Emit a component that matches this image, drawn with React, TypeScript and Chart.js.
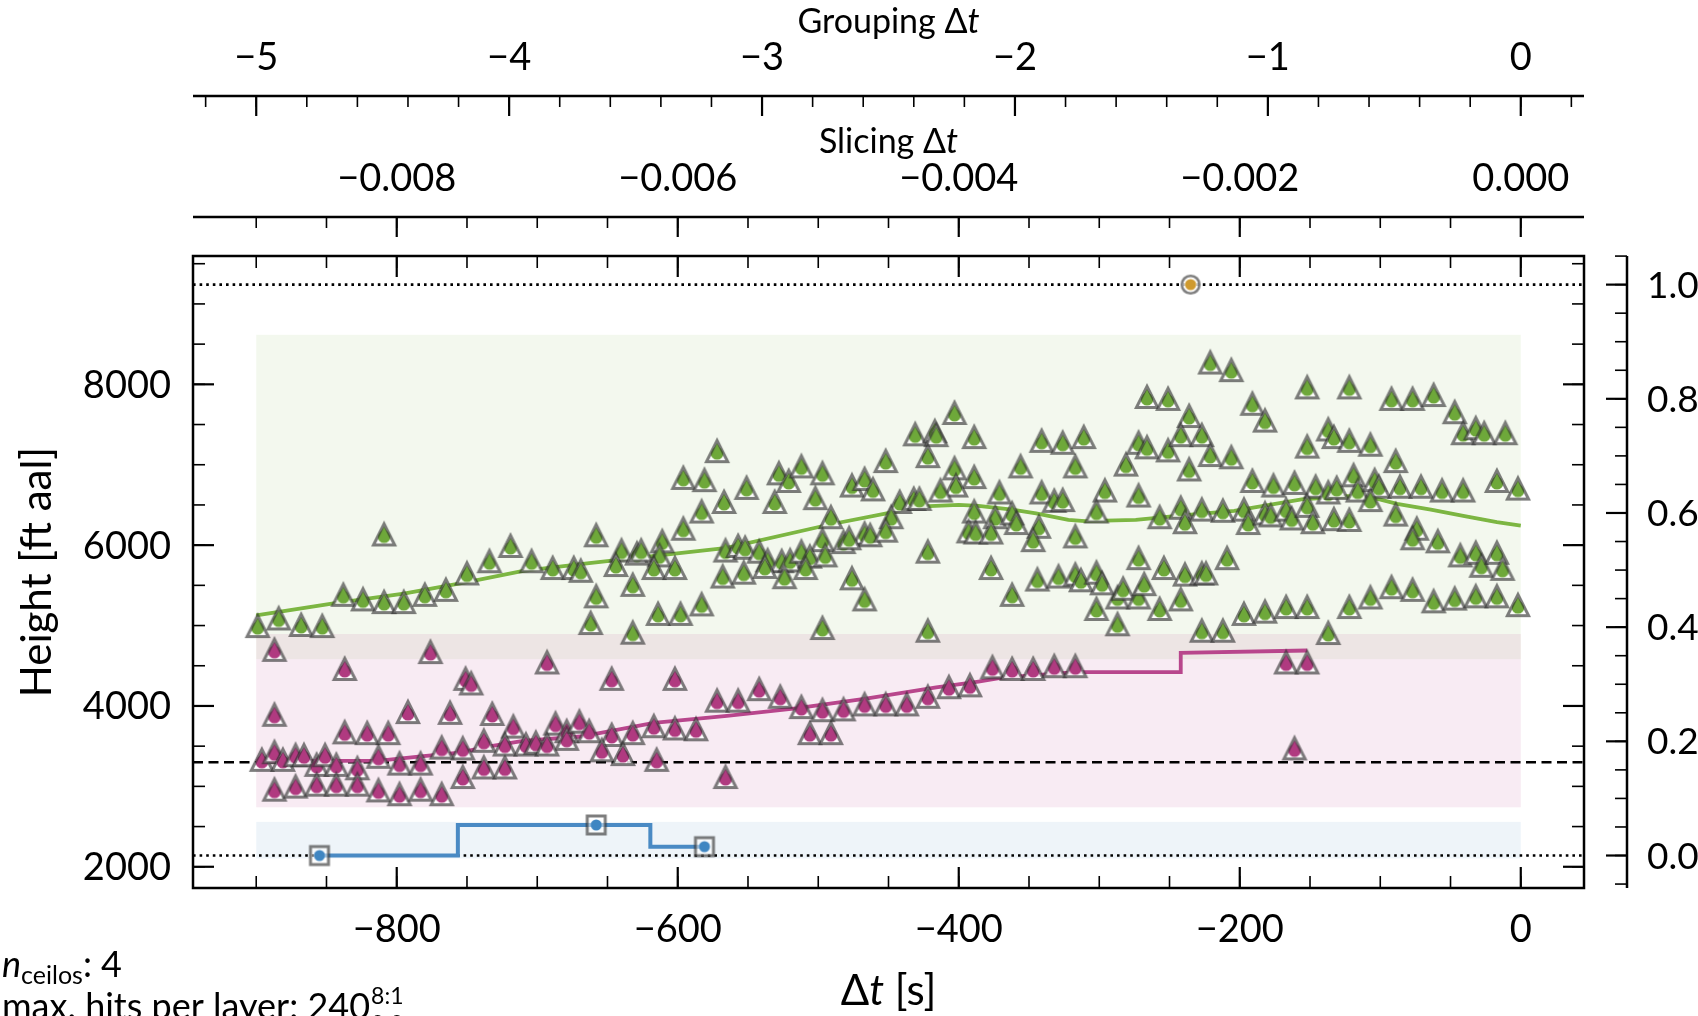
import React, { useEffect, useRef } from "react";
import { Chart, registerables } from "chart.js";

Chart.register(...registerables);

const WIDTH = 1698;
const HEIGHT = 1016;
const FONT = "Lato, 'DejaVu Sans', sans-serif";

// ---- axis limits / conversions ----
const X_LIM = [-945, 45];
const Y_LIM = [1736, 9596];
const GROUPING_PER_S = 1 / 180;
const SLICING_PER_S = 1e-5;

// ---- ticks ----
const X_MAJOR = [-800, -600, -400, -200, 0];
const X_LABELS = ["−800", "−600", "−400", "−200", "0"];
const Y_MAJOR = [2000, 4000, 6000, 8000];
const Y_LABELS = ["2000", "4000", "6000", "8000"];
const Y2_MAJOR = [0, 0.2, 0.4, 0.6, 0.8, 1.0];
const Y2_LABELS = ["0.0", "0.2", "0.4", "0.6", "0.8", "1.0"];
const G_MAJOR = [-5, -4, -3, -2, -1, 0];
const G_LABELS = ["−5", "−4", "−3", "−2", "−1", "0"];
const S_MAJOR = [-0.008, -0.006, -0.004, -0.002, 0];
const S_LABELS = ["−0.008", "−0.006", "−0.004", "−0.002", "0.000"];
const MINOR_STEP = { x: 50, y: 500, y2: 0.05, g: 0.2, s: 0.0005 };

// ---- reference levels ----
const H_MIN = 2140; // lower dotted line (normalised 0)
const H_MAX = 9240; // upper dotted line (normalised 1)
const H_REF = 3300; // dashed line

// ---- shaded layer bands ----
const BAND_DT = [-900, 0];
const BAND_NAMES = ["green", "pink", "blue"];
const BAND_LOW = [4582, 2740, 2104];
const BAND_HIGH = [8616, 4895, 2558];
const BAND_COLORS = ["rgba(122,180,66,0.09)", "rgba(182,62,134,0.10)", "rgba(62,130,190,0.09)"];

// ---- smoothed layer lines ----
const GREEN_LINE_DT = [-900, -845, -795, -750, -710, -663, -565, -491, -445, -433, -400, -386, -362, -345, -322, -310, -274, -241, -204, -156, -123, -104, -88, -64, -40, -17, 0];
const GREEN_LINE_H = [5126, 5277, 5397, 5539, 5681, 5777, 5967, 6260, 6418, 6475, 6500, 6489, 6442, 6394, 6313, 6299, 6313, 6370, 6427, 6570, 6608, 6584, 6513, 6442, 6361, 6285, 6242];
const PINK_LINE_DT = [-900, -812, -781, -757, -734, -710, -669, -617, -565, -516, -466, -416, -386, -369, -333, -317, -242, -242, -152];
const PINK_LINE_H = [3310, 3320, 3377, 3415, 3496, 3567, 3620, 3790, 3876, 3971, 4090, 4232, 4304, 4351, 4399, 4422, 4422, 4660, 4690];

// ---- blue (lowest layer) and orange (single top hit) ----
const BLUE_DT = [-855, -658, -581];
const BLUE_H = [2140, 2520, 2250];
const ORANGE_DT = [-235];
const ORANGE_H = [9240];

// ---- green hits ----
const GREEN_DT = [
  -899, -884, -868, -853, -809, -838, -824, -809, -795, -780, -765, -750, -734, -719, -704, -689, -674,
  -403, -431, -417, -416, -389, -572, -422, -452, -596, -581, -528, -521, -512, -497, -403, -389, -551, -476,
  -467, -461, -402, -583, -567, -531, -502, -442, -432, -428, -413, -389, -491, -448, -658, -611, -596, -393,
  -388, -467, -463, -452, -497, -482, -478, -640, -629, -626, -613, -566, -557, -552, -542, -536, -526, -520,
  -512, -506, -495, -422, -644, -617, -602, -538, -509, -669, -568, -553, -524, -632, -476, -658, -583, -614,
  -598, -467, -662, -632, -497, -422,
  -221, -206, -266, -251, -152, -122, -191, -182, -236, -341, -326, -311, -272, -266, -251, -242, -227, -152,
  -137, -133, -122, -221, -206, -356, -317, -281, -236, -371, -341, -332, -326, -296, -272, -191, -176, -161,
  -146, -137, -131, -119, -116, -374, -362, -359, -343, -302, -257, -242, -239, -227, -212, -197, -194, -182,
  -178, -167, -163, -152, -148, -133, -122, -377, -347, -317, -377, -362, -344, -329, -317, -313, -302, -298,
  -302, -287, -287, -283, -272, -268, -272, -254, -257, -242, -239, -227, -224, -209, -227, -212, -197, -182,
  -167, -152, -137, -122,
  -92, -77, -62, -47, -41, -32, -26, -11, -107, -89, -104, -101, -86, -71, -56, -41, -17, -2, -107, -89, -74,
  -77, -59, -43, -32, -28, -17, -13, -107, -92, -77, -62, -47, -32, -17, -2,
];
const GREEN_H = [
  4993, 5088, 5007, 4993, 6133, 5382, 5325, 5292, 5292, 5382, 5444, 5648, 5800, 5990, 5800, 5715, 5715,
  7644, 7378, 7416, 7368, 7344, 7169, 7107, 7045, 6836, 6808, 6893, 6798, 6979, 6893, 6955, 6846, 6712, 6741,
  6822, 6693, 6741, 6418, 6537, 6537, 6584, 6537, 6575, 6575, 6679, 6418, 6347, 6347, 6123, 6047, 6204, 6171,
  6157, 6142, 6123, 6180, 6062, 6038, 6085, 5933, 5895, 5933, 5872, 5933, 5990, 5967, 5919, 5810, 5800, 5810,
  5919, 5857, 5872, 5919, 5753, 5715, 5715, 5729, 5715, 5681, 5610, 5658, 5601, 5506, 5587, 5363, 5263, 5145,
  5145, 5325, 5031, 4912, 4969, 4936,
  8271, 8176, 7843, 7819, 7962, 7962, 7758, 7549, 7606, 7297, 7273, 7344, 7273, 7216, 7178, 7368, 7368, 7226,
  7439, 7344, 7297, 7121, 7093, 6979, 6979, 7002, 6941, 6655, 6655, 6551, 6560, 6679, 6617, 6798, 6741, 6774,
  6727, 6655, 6712, 6869, 6679, 6347, 6394, 6275, 6228, 6418, 6347, 6465, 6285, 6442, 6427, 6442, 6275, 6394,
  6370, 6442, 6332, 6489, 6285, 6323, 6313, 6157, 6062, 6109, 5715, 5382, 5572, 5610, 5634, 5563, 5658, 5525,
  5206, 5016, 5349, 5458, 5349, 5515, 5838, 5715, 5206, 5325, 5634, 5648, 5648, 5838, 4936, 4936, 5145, 5173,
  5230, 5230, 4907, 5230,
  7819, 7819, 7867, 7653, 7392, 7454, 7392, 7392, 7249, 7045, 6808, 6727, 6727, 6727, 6679, 6679, 6798, 6703, 6560, 6380, 6204,
  6085, 6047, 5872, 5905, 5743, 5905, 5705, 5349, 5477, 5444, 5301, 5335, 5363, 5363, 5254,
];

// ---- pink hits ----
const PINK_DT = [
  -887, -837, -776, -751, -747, -693, -887, -792, -762, -732, -837, -821, -806, -717, -687, -679, -679, -670, -663,
  -896, -887, -881, -872, -866, -857, -851, -843, -828, -813, -798, -783, -753, -738, -723,
  -887, -872, -857, -843, -828, -813, -798, -783, -768, -738, -753, -768, -723, -708, -701, -693,
  -647, -602, -572, -557, -542, -527, -512, -497, -482, -467, -452, -437, -422, -407, -392,
  -647, -632, -617, -602, -587, -654, -639, -615, -566, -506, -491,
  -376, -362, -347, -332, -317, -167, -152, -161,
];
const PINK_H = [
  4698, 4460, 4670, 4337, 4280, 4541, 3890, 3924, 3914, 3900, 3672, 3662, 3662, 3743, 3781, 3686, 3591, 3805, 3686,
  3330, 3425, 3330, 3387, 3387, 3268, 3387, 3268, 3225, 3368, 3283, 3283, 3116, 3235, 3235,
  2959, 2997, 3021, 3021, 3021, 2950, 2902, 2959, 2902, 3567, 3472, 3482, 3520, 3520, 3543, 3520,
  4337, 4337, 4066, 4066, 4209, 4114, 3986, 3947, 3957, 4019, 4019, 4019, 4114, 4233, 4256,
  3639, 3662, 3748, 3720, 3710, 3449, 3401, 3330, 3116, 3662, 3662,
  4480, 4460, 4460, 4494, 4494, 4541, 4541, 3472,
];

// ---- colours ----
const GREEN_LINE_COLOR = "#7cb642";
const PINK_LINE_COLOR = "#b8468c";
const BLUE_LINE_COLOR = "#4a8ac4";
const GREEN_FILL = "#6ea83a";
const PINK_FILL = "#b03a80";
const BLUE_FILL = "#3f86c2";
const ORANGE_FILL = "#cf9a2e";
const MARKER_EDGE = "rgba(45,45,45,0.62)";

function pts(xs: number[], ys: number[]) {
  return xs.map((x, i) => ({ x, y: ys[i] }));
}

function minorTicks(min: number, max: number, step: number) {
  const out: number[] = [];
  const k0 = Math.ceil(min / step - 1e-9);
  const k1 = Math.floor(max / step + 1e-9);
  for (let k = k0; k <= k1; k++) out.push(k * step);
  return out;
}

function triMarker(color: string) {
  const s = 32;
  const c = document.createElement("canvas");
  c.width = s;
  c.height = s;
  const g = c.getContext("2d")!;
  const cx = s / 2, cy = s / 2, r = 10.6;
  const path = () => {
    g.beginPath();
    g.moveTo(cx, cy - r);
    g.lineTo(cx + r, cy + r);
    g.lineTo(cx - r, cy + r);
    g.closePath();
  };
  path();
  g.fillStyle = "rgba(255,255,255,0.85)";
  g.fill();
  g.save();
  path();
  g.clip();
  g.fillStyle = color;
  g.beginPath();
  g.arc(cx, cy + 2.2, 6.3, 0, Math.PI * 2);
  g.fill();
  g.beginPath();
  g.moveTo(cx, cy - r + 2.5);
  g.lineTo(cx + 6.1, cy + 1.5);
  g.lineTo(cx - 6.1, cy + 1.5);
  g.closePath();
  g.fill();
  g.restore();
  path();
  g.lineWidth = 3;
  g.lineJoin = "miter";
  g.strokeStyle = MARKER_EDGE;
  g.stroke();
  return c;
}

function squareMarker(color: string) {
  const s = 26;
  const c = document.createElement("canvas");
  c.width = s;
  c.height = s;
  const g = c.getContext("2d")!;
  const h = 9;
  g.fillStyle = "rgba(255,255,255,0.5)";
  g.fillRect(s / 2 - h, s / 2 - h, 2 * h, 2 * h);
  g.lineWidth = 3;
  g.strokeStyle = MARKER_EDGE;
  g.strokeRect(s / 2 - h, s / 2 - h, 2 * h, 2 * h);
  g.fillStyle = color;
  g.beginPath();
  g.arc(s / 2, s / 2, 5.5, 0, Math.PI * 2);
  g.fill();
  return c;
}

function circleMarker(color: string) {
  const s = 26;
  const c = document.createElement("canvas");
  c.width = s;
  c.height = s;
  const g = c.getContext("2d")!;
  g.fillStyle = "rgba(255,255,255,0.8)";
  g.beginPath();
  g.arc(s / 2, s / 2, 8.8, 0, Math.PI * 2);
  g.fill();
  g.lineWidth = 2.6;
  g.strokeStyle = MARKER_EDGE;
  g.stroke();
  g.fillStyle = color;
  g.beginPath();
  g.arc(s / 2, s / 2, 5.6, 0, Math.PI * 2);
  g.fill();
  return c;
}

function seg(ctx: CanvasRenderingContext2D, x1: number, y1: number, x2: number, y2: number) {
  ctx.beginPath();
  ctx.moveTo(x1, y1);
  ctx.lineTo(x2, y2);
  ctx.stroke();
}

type Run = { t: string; f: string; dy?: number };
function drawRuns(ctx: CanvasRenderingContext2D, runs: Run[], x: number, y: number, align: "left" | "center") {
  const widths = runs.map((r) => {
    ctx.font = r.f;
    return ctx.measureText(r.t).width;
  });
  const total = widths.reduce((a, b) => a + b, 0);
  let cx = align === "center" ? x - total / 2 : x;
  ctx.textAlign = "left";
  runs.forEach((r, i) => {
    ctx.font = r.f;
    ctx.fillText(r.t, cx, y + (r.dy || 0));
    cx += widths[i];
  });
  return cx;
}

const PLOT = { left: 193, right: 1584, top: 256, bottom: 888 };
const Y2_LIM = [(Y_LIM[0] - H_MIN) / (H_MAX - H_MIN), (Y_LIM[1] - H_MIN) / (H_MAX - H_MIN)];

const decoPlugin = {
  id: "deco",
  beforeDatasetsDraw(chart: any) {
    const { ctx, chartArea: a } = chart;
    const sx = chart.scales.x, sy = chart.scales.y;
    ctx.save();
    ctx.beginPath();
    ctx.rect(a.left, a.top, a.right - a.left, a.bottom - a.top);
    ctx.clip();
    const x0 = sx.getPixelForValue(BAND_DT[0]);
    const x1 = sx.getPixelForValue(BAND_DT[1]);
    BAND_NAMES.forEach((_, i) => {
      const yTop = sy.getPixelForValue(BAND_HIGH[i]);
      const yBot = sy.getPixelForValue(BAND_LOW[i]);
      ctx.fillStyle = BAND_COLORS[i];
      ctx.fillRect(x0, yTop, x1 - x0, yBot - yTop);
    });
    ctx.strokeStyle = "#000";
    ctx.lineWidth = 2.6;
    ctx.setLineDash([2.6, 4]);
    [H_MIN, H_MAX].forEach((h) => {
      const py = sy.getPixelForValue(h);
      seg(ctx, a.left, py, a.right, py);
    });
    ctx.lineWidth = 2.7;
    ctx.setLineDash([10, 5.5]);
    const pr = sy.getPixelForValue(H_REF);
    seg(ctx, a.left, pr, a.right, pr);
    ctx.restore();
  },
  afterDraw(chart: any) {
    const { ctx, chartArea: a } = chart;
    const sx = chart.scales.x, sy = chart.scales.y, sy2 = chart.scales.y2;
    const sg = chart.scales.xg, ss = chart.scales.xs;
    const MAJ = 21, MIN = 12;
    ctx.save();
    ctx.strokeStyle = "#000";
    ctx.fillStyle = "#000";
    ctx.setLineDash([]);
    ctx.lineCap = "butt";

    // frame
    ctx.lineWidth = 2.5;
    ctx.strokeRect(a.left, a.top, a.right - a.left, a.bottom - a.top);

    // x ticks (bottom + top of plot, inward)
    ctx.lineWidth = 1.6;
    minorTicks(X_LIM[0], X_LIM[1], MINOR_STEP.x).forEach((v) => {
      const p = sx.getPixelForValue(v);
      seg(ctx, p, a.bottom, p, a.bottom - MIN);
      seg(ctx, p, a.top, p, a.top + MIN);
    });
    ctx.lineWidth = 2.2;
    X_MAJOR.forEach((v) => {
      const p = sx.getPixelForValue(v);
      seg(ctx, p, a.bottom, p, a.bottom - MAJ);
      seg(ctx, p, a.top, p, a.top + MAJ);
    });
    // y ticks (left + right of plot, inward)
    ctx.lineWidth = 1.6;
    minorTicks(Y_LIM[0], Y_LIM[1], MINOR_STEP.y).forEach((v) => {
      const p = sy.getPixelForValue(v);
      seg(ctx, a.left, p, a.left + MIN, p);
      seg(ctx, a.right, p, a.right - MIN, p);
    });
    ctx.lineWidth = 2.2;
    Y_MAJOR.forEach((v) => {
      const p = sy.getPixelForValue(v);
      seg(ctx, a.left, p, a.left + MAJ, p);
      seg(ctx, a.right, p, a.right - MAJ, p);
    });

    // secondary normalised axis
    const sp = a.right + 43;
    ctx.lineWidth = 2.5;
    seg(ctx, sp, a.top, sp, a.bottom);
    ctx.lineWidth = 1.6;
    minorTicks(Y2_LIM[0], Y2_LIM[1], MINOR_STEP.y2).forEach((v) => {
      const p = sy2.getPixelForValue(v);
      seg(ctx, sp, p, sp - MIN, p);
    });
    ctx.lineWidth = 2.2;
    Y2_MAJOR.forEach((v) => {
      const p = sy2.getPixelForValue(v);
      seg(ctx, sp, p, sp - MAJ, p);
    });

    // top axes
    const GY = 96, SY = 217;
    ctx.lineWidth = 2.5;
    seg(ctx, a.left, GY, a.right, GY);
    seg(ctx, a.left, SY, a.right, SY);
    ctx.lineWidth = 1.6;
    minorTicks(sg.min, sg.max, MINOR_STEP.g).forEach((v) => {
      const p = sg.getPixelForValue(v);
      seg(ctx, p, GY, p, GY + 11);
    });
    minorTicks(ss.min, ss.max, MINOR_STEP.s).forEach((v) => {
      const p = ss.getPixelForValue(v);
      seg(ctx, p, SY, p, SY + 11);
    });
    ctx.lineWidth = 2.2;
    G_MAJOR.forEach((v) => {
      const p = sg.getPixelForValue(v);
      seg(ctx, p, GY, p, GY + 20);
    });
    S_MAJOR.forEach((v) => {
      const p = ss.getPixelForValue(v);
      seg(ctx, p, SY, p, SY + 20);
    });

    // tick labels
    const TF = `38px ${FONT}`;
    ctx.font = TF;
    ctx.textBaseline = "alphabetic";
    ctx.textAlign = "center";
    X_MAJOR.forEach((v, i) => ctx.fillText(X_LABELS[i], sx.getPixelForValue(v), 942));
    G_MAJOR.forEach((v, i) => ctx.fillText(G_LABELS[i], sg.getPixelForValue(v), 70));
    S_MAJOR.forEach((v, i) => ctx.fillText(S_LABELS[i], ss.getPixelForValue(v), 191));
    ctx.textAlign = "right";
    Y_MAJOR.forEach((v, i) => ctx.fillText(Y_LABELS[i], a.left - 22, sy.getPixelForValue(v) + 13.5));
    ctx.font = `37px ${FONT}`;
    ctx.textAlign = "left";
    Y2_MAJOR.forEach((v, i) => ctx.fillText(Y2_LABELS[i], sp + 20, sy2.getPixelForValue(v) + 13));

    // axis titles
    const cxp = (a.left + a.right) / 2;
    drawRuns(ctx, [{ t: "Grouping Δ", f: `34px ${FONT}` }, { t: "t", f: `italic 34px ${FONT}` }], cxp, 33, "center");
    drawRuns(ctx, [{ t: "Slicing Δ", f: `34px ${FONT}` }, { t: "t", f: `italic 34px ${FONT}` }], cxp, 153, "center");
    drawRuns(
      ctx,
      [
        { t: "Δ", f: `42px ${FONT}` },
        { t: "t", f: `italic 42px ${FONT}` },
        { t: " [s]", f: `42px ${FONT}` },
      ],
      cxp,
      1005,
      "center"
    );
    ctx.save();
    ctx.translate(51, (a.top + a.bottom) / 2);
    ctx.rotate(-Math.PI / 2);
    ctx.font = `42px ${FONT}`;
    ctx.textAlign = "center";
    ctx.fillText("Height [ft aal]", 0, 0);
    ctx.restore();

    // annotation text
    drawRuns(
      ctx,
      [
        { t: "n", f: `italic 36px ${FONT}` },
        { t: "ceilos", f: `25px ${FONT}`, dy: 7 },
        { t: ": 4", f: `36px ${FONT}` },
      ],
      2,
      977,
      "left"
    );
    const xe = drawRuns(ctx, [{ t: "max. hits per layer: 240", f: `36px ${FONT}` }], 2, 1019, "left");
    ctx.font = `23px ${FONT}`;
    ctx.textAlign = "left";
    ctx.fillText("8:1", xe + 1, 1004);
    ctx.fillText("0:0", xe + 1, 1032);
    ctx.restore();
  },
};

export default function App() {
  const ref = useRef<HTMLCanvasElement | null>(null);
  useEffect(() => {
    document.body.style.margin = "0";
    const canvas = ref.current;
    if (!canvas) return;
    const triG = triMarker(GREEN_FILL);
    const triP = triMarker(PINK_FILL);
    const sqB = squareMarker(BLUE_FILL);
    const ciO = circleMarker(ORANGE_FILL);
    const chart = new Chart(canvas, {
      type: "scatter",
      data: {
        datasets: [
          {
            label: "green layer smooth",
            data: pts(GREEN_LINE_DT, GREEN_LINE_H),
            showLine: true,
            borderColor: GREEN_LINE_COLOR,
            borderWidth: 3.8,
            pointRadius: 0,
            tension: 0,
            order: 10,
          },
          {
            label: "pink layer smooth",
            data: pts(PINK_LINE_DT, PINK_LINE_H),
            showLine: true,
            borderColor: PINK_LINE_COLOR,
            borderWidth: 3.8,
            pointRadius: 0,
            tension: 0,
            order: 10,
          },
          {
            label: "blue layer",
            data: pts(BLUE_DT, BLUE_H),
            showLine: true,
            stepped: "middle",
            borderColor: BLUE_LINE_COLOR,
            borderWidth: 4,
            pointRadius: 0,
            order: 10,
          },
          {
            label: "green hits",
            data: pts(GREEN_DT, GREEN_H),
            pointStyle: triG,
            pointRadius: 10,
            order: 2,
          },
          {
            label: "pink hits",
            data: pts(PINK_DT, PINK_H),
            pointStyle: triP,
            pointRadius: 10,
            order: 2,
          },
          {
            label: "blue hits",
            data: pts(BLUE_DT, BLUE_H),
            pointStyle: sqB,
            pointRadius: 10,
            order: 1,
          },
          {
            label: "orange hit",
            data: pts(ORANGE_DT, ORANGE_H),
            pointStyle: ciO,
            pointRadius: 10,
            order: 1,
          },
        ],
      } as any,
      options: {
        animation: false,
        responsive: false,
        devicePixelRatio: 1,
        events: [],
        layout: {
          autoPadding: false,
          padding: {
            left: PLOT.left,
            top: PLOT.top,
            right: WIDTH - PLOT.right,
            bottom: HEIGHT - PLOT.bottom,
          },
        },
        plugins: {
          legend: { display: false },
          tooltip: { enabled: false },
          title: { display: false },
        },
        scales: {
          x: { type: "linear", position: "bottom", min: X_LIM[0], max: X_LIM[1], display: false },
          y: { type: "linear", position: "left", min: Y_LIM[0], max: Y_LIM[1], display: false },
          y2: { type: "linear", position: "right", min: Y2_LIM[0], max: Y2_LIM[1], display: false },
          xg: {
            type: "linear",
            position: "top",
            min: X_LIM[0] * GROUPING_PER_S,
            max: X_LIM[1] * GROUPING_PER_S,
            display: false,
          },
          xs: {
            type: "linear",
            position: "top",
            min: X_LIM[0] * SLICING_PER_S,
            max: X_LIM[1] * SLICING_PER_S,
            display: false,
          },
        },
      } as any,
      plugins: [decoPlugin],
    });
    return () => chart.destroy();
  }, []);
  return (
    <div style={{ position: "fixed", left: 0, top: 0, width: WIDTH, height: HEIGHT, overflow: "hidden", background: "#fff" }}>
      <canvas ref={ref} width={WIDTH} height={HEIGHT} style={{ display: "block", width: WIDTH, height: HEIGHT }} />
    </div>
  );
}
